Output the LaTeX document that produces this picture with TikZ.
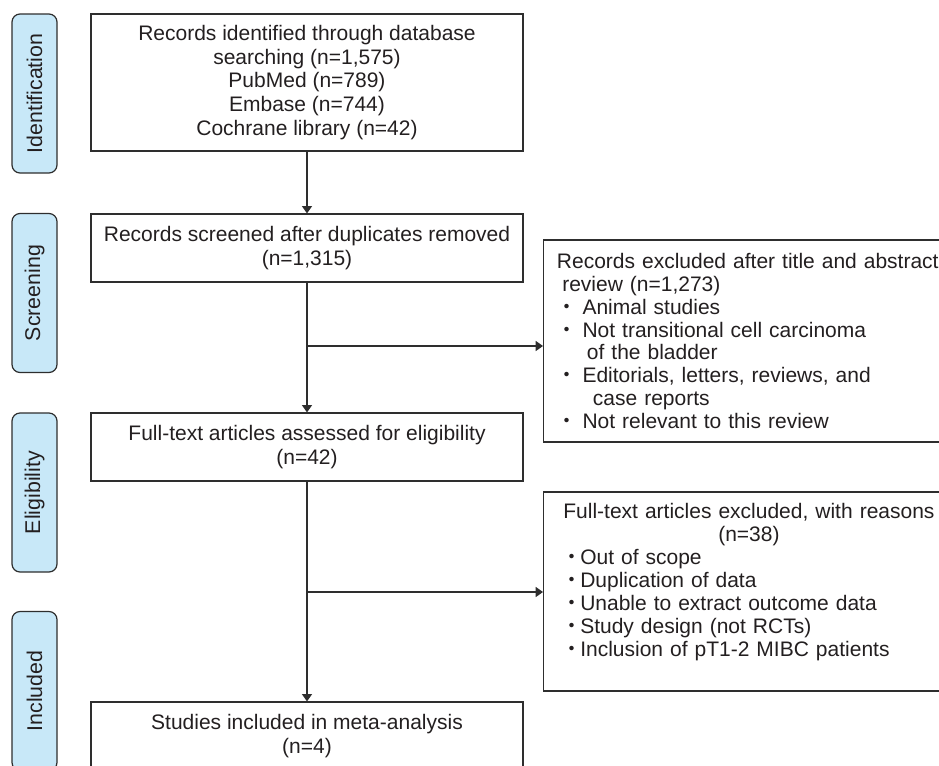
\documentclass[tikz,border=0pt]{standalone}
\usepackage{fontspec}
\setmainfont{Liberation Sans}
\newfontfamily\cjk{Noto Sans CJK JP}
\usetikzlibrary{arrows.meta}
\definecolor{lineclr}{HTML}{2E2E2E}
\definecolor{txtclr}{HTML}{231F20}
\definecolor{stagefill}{HTML}{C8E8F8}
% bullets of the two exclusion boxes
\newcommand{\bul}{\hspace*{7.2pt}\makebox[0pt][c]{\cjk ・}\hspace{12pt}}
\newcommand{\bulb}{\hspace*{11.5pt}\makebox[0pt][c]{\cjk ・}\hspace{6pt}}
\begin{document}
\begin{tikzpicture}[x=0.75pt,y=-0.75pt]
\tikzstyle{stage}=[draw=lineclr,line width=0.9pt,fill=stagefill,rounded corners=6pt,rotate=90,
  minimum width=119.25pt,minimum height=33.75pt,inner sep=0pt,text=txtclr,
  font=\fontsize{16}{17.5}\selectfont]
\tikzstyle{box}=[draw=lineclr,line width=0.9pt,minimum width=324pt,align=center,text=txtclr,
  font=\fontsize{15.75}{17.8}\selectfont]
\tikzstyle{xbox}=[draw=lineclr,line width=0.9pt,anchor=west,text width=300pt,inner xsep=10pt,
  align=left,text=txtclr,font=\fontsize{15.75}{17.2}\selectfont]
\tikzstyle{flow}=[draw=lineclr,line width=1pt,-{Triangle[width=7.5pt,length=5.5pt]}]
\useasboundingbox (0,0) rectangle (939,765);
\clip (0,0) rectangle (939,765);
% stage labels
\node[stage] (idlab)  at (34.5,93.5) {Identification};
\node[stage] (scrlab) at (34.5,293)  {Screening};
\node[stage] (elilab) at (34.5,492.5){Eligibility};
\node[stage] (inclab) at (34.5,691)  {Included};
% main column
\node[box,minimum height=102.75pt] (ident) at (307,82.5)
  {Records identified through database\\ searching (n=1,575)\\ PubMed (n=789)\\ Embase (n=744)\\ Cochrane library (n=42)};
\node[box,minimum height=51pt] (screen) at (307,248)
  {Records screened after duplicates removed\\ (n=1,315)};
\node[box,minimum height=51pt] (elig) at (307,447)
  {Full-text articles assessed for eligibility\\ (n=42)};
\node[box,minimum height=51pt] (incl) at (307,736)
  {Studies included in meta-analysis\\ (n=4)};
% exclusions
\node[xbox,minimum height=151.5pt] (rej1) at (543,341)
  {Records excluded after title and abstract\\
   \hspace*{4pt}review (n=1,273)\\
   \bul Animal studies\\
   \bul Not transitional cell carcinoma\\
   \hspace*{22.5pt}of the bladder\\
   \bul Editorials, letters, reviews, and\\
   \hspace*{27pt}case reports\\
   \bul Not relevant to this review};
\node[xbox,minimum height=149.25pt] (rej2) at (543,591.5)
  {\makebox[288pt][c]{Full-text articles excluded, with reasons}\\
   \makebox[288pt][c]{(n=38)}\\
   \bulb Out of scope\\
   \bulb Duplication of data\\
   \bulb Unable to extract outcome data\\
   \bulb Study design (not RCTs)\\
   \bulb Inclusion of pT1-2 MIBC patients\\ \mbox{}};
\coordinate (br1) at (307,346);
\coordinate (br2) at (307,592);
\draw[flow] (ident) -- (screen);
\draw[flow] (screen) -- (elig);
\draw[flow] (elig) -- (incl);
\draw[flow] (br1) -- (br1 -| rej1.west);
\draw[flow] (br2) -- (br2 -| rej2.west);
\end{tikzpicture}
\end{document}
